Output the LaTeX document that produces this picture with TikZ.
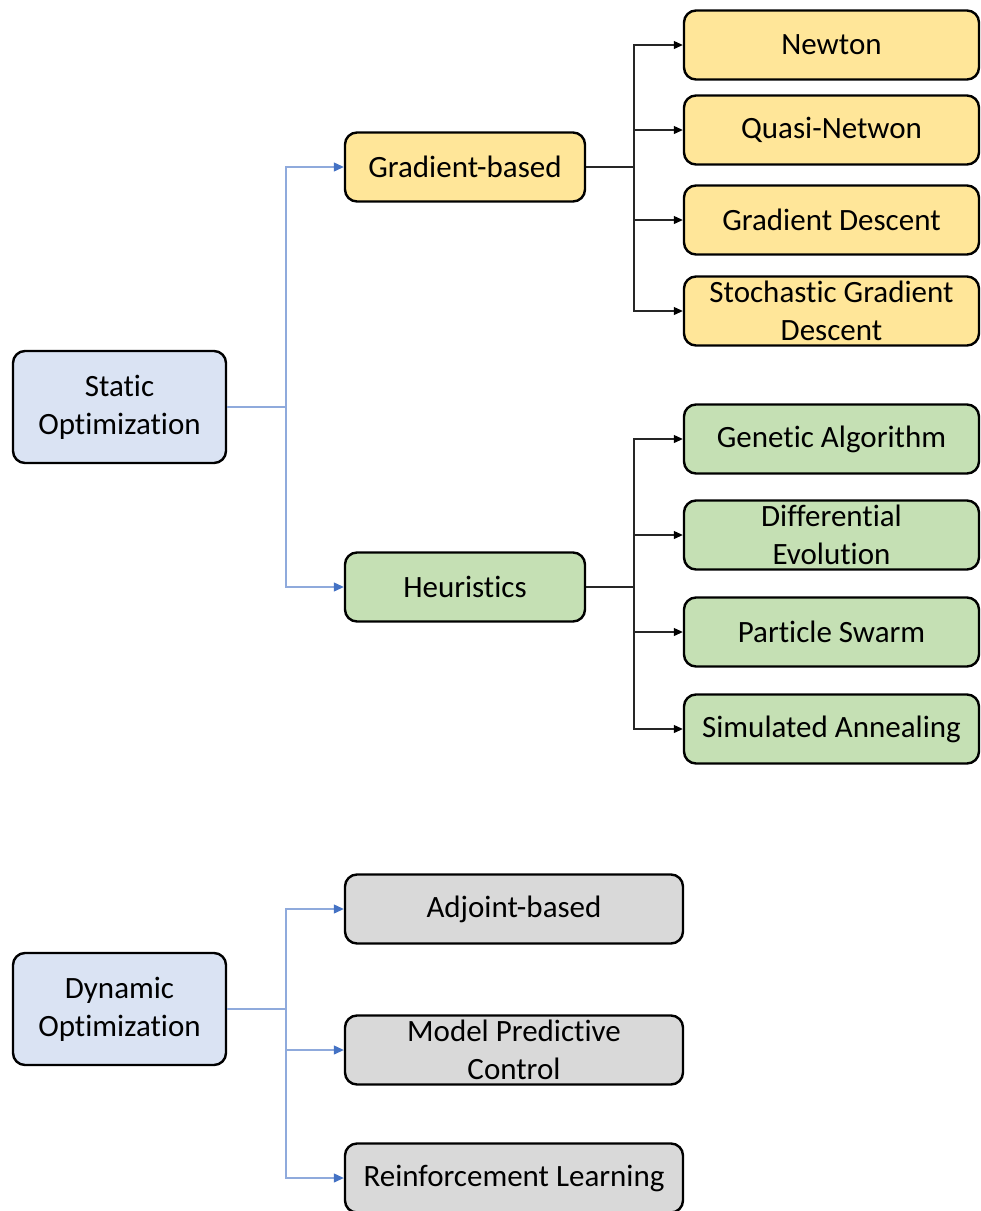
\documentclass[tikz,border=0pt]{standalone}
\usepackage{fontspec}
\setmainfont{Carlito}[Ligatures=NoCommon]
\usetikzlibrary{arrows.meta}
\definecolor{rootfill}{HTML}{DAE3F3}
\definecolor{gradfill}{HTML}{FFE699}
\definecolor{heurfill}{HTML}{C5E0B4}
\definecolor{dynfill}{HTML}{D9D9D9}
\definecolor{tipblue}{HTML}{4472C4}
\definecolor{lineblue}{HTML}{8FAADC}
\tikzset{
  box/.style={draw=black, line width=2.4pt, rounded corners=12pt, inner sep=0pt,
    align=center, font=\fontsize{31}{38}\selectfont, text=black},
  rootbox/.style={box, fill=rootfill, minimum width=213pt, minimum height=112pt},
  midbox/.style={box, minimum width=240pt, minimum height=69pt},
  leafbox/.style={box, minimum width=295pt, minimum height=69pt},
  dynbox/.style={box, fill=dynfill, minimum width=338pt, minimum height=69pt},
  bluelink/.style={draw=lineblue, line width=1.2pt},
  bluearrow/.style={bluelink, -{Triangle[length=10pt,width=9pt,color=tipblue]}},
  blacklink/.style={draw=black!85, line width=1.1pt},
  blackarrow/.style={blacklink, -{Triangle[length=9pt,width=8pt,color=black]}}
}
\begin{document}
\begin{tikzpicture}[x=1pt,y=-1pt]
\useasboundingbox (0,0) rectangle (981,1211);

% root nodes
\node[rootbox] (stat) at (119.5,407) {Static\\Optimization};
\node[rootbox] (dyn) at (119.5,1009) {Dynamic\\Optimization};

% second level of the static branch
\node[midbox, fill=gradfill] (grad) at (465,167) {Gradient-based};
\node[midbox, fill=heurfill] (heur) at (465,587) {Heuristics};

% gradient-based methods
\node[leafbox, fill=gradfill] (newton) at (831.5,45) {Newton};
\node[leafbox, fill=gradfill] (quasi) at (831.5,130) {Quasi-Netwon};
\node[leafbox, fill=gradfill] (gd) at (831.5,220) {Gradient Descent};
\node[leafbox, fill=gradfill] (sgd) at (831.5,311) {Stochastic Gradient\\Descent};

% heuristic methods
\node[leafbox, fill=heurfill] (ga) at (831.5,439) {Genetic Algorithm};
\node[leafbox, fill=heurfill] (de) at (831.5,535) {Differential\\Evolution};
\node[leafbox, fill=heurfill] (pso) at (831.5,632) {Particle Swarm};
\node[leafbox, fill=heurfill] (sa) at (831.5,729) {Simulated Annealing};

% dynamic methods
\node[dynbox] (adj) at (514,909) {Adjoint-based};
\node[dynbox] (mpc) at (514,1050) {Model Predictive\\Control};
\node[dynbox] (rl) at (514,1178) {Reinforcement Learning};

% junction points
\coordinate (sj) at (286,407);
\coordinate (gj) at (634,167);
\coordinate (hj) at (634,587);
\coordinate (dj) at (286,1009);

% static branch
\draw[bluelink] (stat.east) -- (sj);
\draw[bluearrow] (sj) |- (grad.west);
\draw[bluearrow] (sj) |- (heur.west);

% gradient-based branch
\draw[blacklink] (grad.east) -- (gj);
\foreach \t in {newton,quasi,gd,sgd} \draw[blackarrow] (gj) |- (\t.west);

% heuristics branch
\draw[blacklink] (heur.east) -- (hj);
\foreach \t in {ga,de,pso,sa} \draw[blackarrow] (hj) |- (\t.west);

% dynamic branch
\draw[bluelink] (dyn.east) -- (dj);
\foreach \t in {adj,mpc,rl} \draw[bluearrow] (dj) |- (\t.west);
\end{tikzpicture}
\end{document}
